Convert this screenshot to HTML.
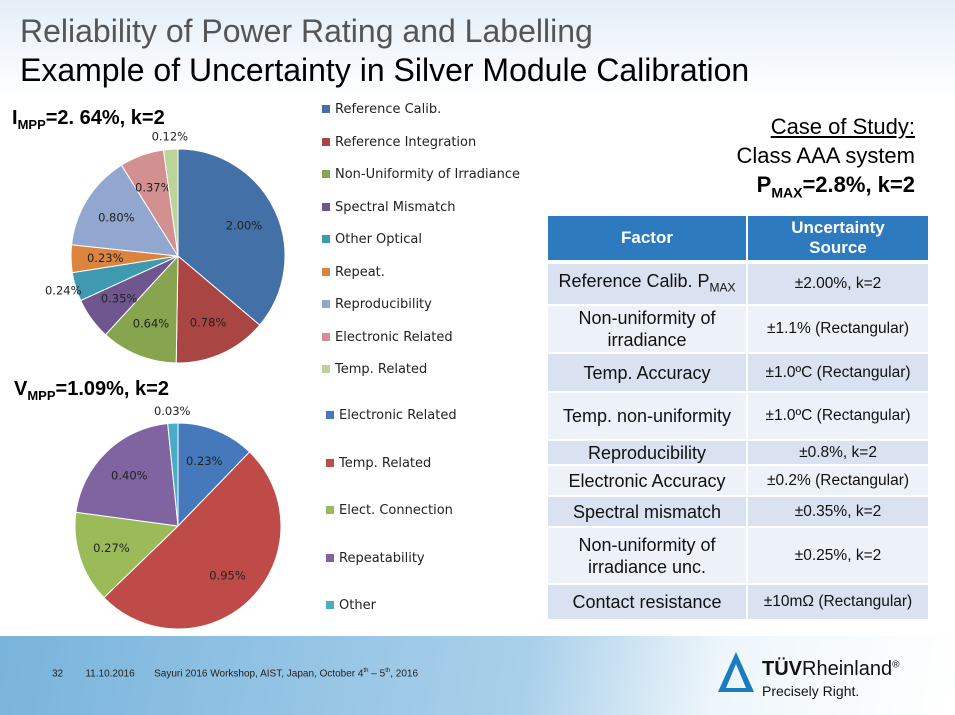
<!DOCTYPE html>
<html><head><meta charset="utf-8"><style>
body{margin:0;width:955px;height:715px;overflow:hidden;background:#fff;font-family:"Liberation Sans",sans-serif;position:relative}
.abs{position:absolute}
.t1{left:20px;top:13px;font-size:32px;color:#555;white-space:nowrap}
.t2{left:20px;top:52px;font-size:32px;color:#000;white-space:nowrap}
.leg{position:absolute;font-family:"DejaVu Sans",sans-serif;font-size:13px;color:#222;white-space:nowrap}
.leg i{display:inline-block;width:8px;height:8px;margin-right:5px}
table{position:absolute;left:548px;top:216px;border-collapse:separate;border-spacing:0;font-size:18px;color:#111}
td{text-align:center;padding:0;line-height:22px;border-bottom:2px solid #fff}
td:first-child{width:198px;border-right:2px solid #fff}
td:last-child{width:180px;font-size:15.5px}
th{background:#2e7abf;color:#fff;font-size:17px;height:42px;line-height:20px;border-bottom:4px solid #fff}
th:first-child{border-right:2px solid #fff}
.a td{background:#dae1f0}.b td{background:#edf1f8}
</style></head><body>
<div class="abs" style="left:0;top:0;width:955px;height:100px;background:linear-gradient(#e4eef8,#fff)"></div>
<div class="abs t1">Reliability of Power Rating and Labelling</div>
<div class="abs t2">Example of Uncertainty in Silver Module Calibration</div>
<div class="abs" style="left:12px;top:107px;font-size:20px;font-weight:bold">I<sub style="font-size:13px">MPP</sub>=2. 64%, k=2</div>
<div class="abs" style="left:14px;top:378px;font-size:20px;font-weight:bold">V<sub style="font-size:13px">MPP</sub>=1.09%, k=2</div>
<svg class="abs" style="left:0;top:0" width="955" height="715" id="svg"></svg>
<div class="abs" style="right:40px;top:112px;text-align:right;font-size:22px;line-height:29px">
<u>Case of Study:</u><br>Class AAA system<br><b>P<sub style="font-size:14px">MAX</sub>=2.8%, k=2</b></div>
<table>
<tr><th>Factor</th><th>Uncertainty<br>Source</th></tr>
<tr class="a" style="height:42px"><td>Reference Calib. P<sub style="font-size:12px">MAX</sub></td><td>±2.00%, k=2</td></tr>
<tr class="b" style="height:48px"><td>Non-uniformity of<br>irradiance</td><td>±1.1% (Rectangular)</td></tr>
<tr class="a" style="height:39px"><td>Temp. Accuracy</td><td>±1.0ºC (Rectangular)</td></tr>
<tr class="b" style="height:48px"><td>Temp. non-uniformity</td><td>±1.0ºC (Rectangular)</td></tr>
<tr class="a" style="height:25px"><td>Reproducibility</td><td>±0.8%, k=2</td></tr>
<tr class="b" style="height:31px"><td>Electronic Accuracy</td><td>±0.2% (Rectangular)</td></tr>
<tr class="a" style="height:31px"><td>Spectral mismatch</td><td>±0.35%, k=2</td></tr>
<tr class="b" style="height:57px"><td>Non-uniformity of<br>irradiance unc.</td><td>±0.25%, k=2</td></tr>
<tr class="a" style="height:36px"><td>Contact resistance</td><td>±10mΩ (Rectangular)</td></tr>
</table>
<div class="abs" style="left:0;top:636px;width:955px;height:79px;background:linear-gradient(100deg,#79b4dc 0%,#a9d0ea 55%,#eef6fb 75%,#fff 100%)"></div>
<div class="abs" style="left:52px;top:668px;font-size:10px;color:#222;white-space:nowrap">32 &nbsp;&nbsp;&nbsp;&nbsp;&nbsp;&nbsp;&nbsp;11.10.2016 &nbsp;&nbsp;&nbsp;&nbsp;&nbsp;&nbsp;Sayuri 2016 Workshop, AIST, Japan, October 4<sup style="font-size:6px">th</sup> – 5<sup style="font-size:6px">th</sup>, 2016</div>
<svg class="abs" style="left:716px;top:650px" width="40" height="46"><path d="M20 2 L38 42 L2 42 Z M20 14 L10 38 L30 38 Z" fill="#1c7cc0" fill-rule="evenodd"/></svg>
<div class="abs" style="left:762px;top:658px;font-size:20px;color:#111"><b>TÜV</b>Rheinland<sup style="font-size:10px">®</sup></div>
<div class="abs" style="left:762px;top:683px;font-size:14px;color:#111">Precisely Right.</div>
<script>
const topCategories=["Reference Calib.","Reference Integration","Non-Uniformity of Irradiance","Spectral Mismatch","Other Optical","Repeat.","Reproducibility","Electronic Related","Temp. Related"];
const topValues=[2.00,0.78,0.64,0.35,0.24,0.23,0.80,0.37,0.12];
const topColors=["#4470a8","#a94644","#87a54f","#6f568f","#3f99b0","#dc843e","#91a7cf","#d29190","#bcd39a"];
const botCategories=["Electronic Related","Temp. Related","Elect. Connection","Repeatability","Other"];
const botValues=[0.23,0.95,0.27,0.40,0.03];
const botColors=["#4678bc","#bf4b48","#9bbb59","#8064a2","#4bacc6"];
const NS="http://www.w3.org/2000/svg";
const svg=document.getElementById('svg');
function pie(vals,cols,cx,cy,r,name,outside){
  const sum=vals.reduce((a,b)=>a+b,0);let a0=0;
  vals.forEach((v,i)=>{
    const a1=a0+v/sum*2*Math.PI;
    const p=(a)=>[cx+r*Math.sin(a),cy-r*Math.cos(a)];
    const [x0,y0]=p(a0),[x1,y1]=p(a1);
    const path=document.createElementNS(NS,'path');
    path.setAttribute('d',`M${cx},${cy}L${x0},${y0}A${r},${r} 0 ${a1-a0>Math.PI?1:0} 1 ${x1},${y1}Z`);
    path.setAttribute('fill',cols[i]);path.setAttribute('stroke','#fff');path.setAttribute('stroke-width','1');
    
    
    svg.appendChild(path);
    const am=(a0+a1)/2;const rr=outside.includes(i)?r*1.12:r*0.68;
    const t=document.createElementNS(NS,'text');
    t.setAttribute('x',cx+rr*Math.sin(am));t.setAttribute('y',cy-rr*Math.cos(am)+4);
    t.setAttribute('text-anchor','middle');t.setAttribute('font-size','11.5');t.setAttribute('font-family','DejaVu Sans, sans-serif');t.setAttribute('fill','#222');
    t.textContent=v.toFixed(2)+'%';
    
    
    svg.appendChild(t);
    a0=a1;
  });
}
pie(topValues,topColors,178,256,107,'impp',[4,8]);
pie(botValues,botColors,178,526,103,'vmpp',[4]);
function legend(cats,cols,x,y0,dy,name){
  cats.forEach((c,i)=>{
    const d=document.createElement('div');d.className='leg';
    d.style.left=x+'px';d.style.top=(y0+i*dy)+'px';
    d.innerHTML=`<i style="background:${cols[i]}"></i>${c}`;
    
    
    document.body.appendChild(d);
  });
}
legend(topCategories,topColors,322,102,32.5,'impp');
legend(botCategories,botColors,326,408,47.5,'vmpp');
</script>
</body></html>
